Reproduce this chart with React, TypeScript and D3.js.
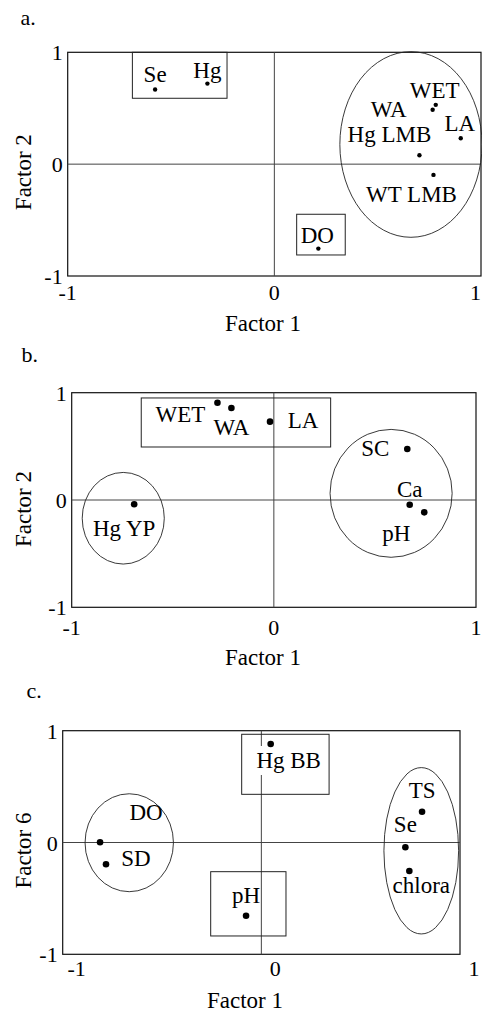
import React, { useEffect, useRef } from "react";
import * as d3 from "d3";

// values (factor loadings)
const namesA = ["Se", "Hg", "WET", "WA", "LA", "Hg LMB", "WT LMB", "DO"];
const xA = [-0.577, -0.324, 0.781, 0.766, 0.902, 0.702, 0.77, 0.213];
const yA = [0.668, 0.72, 0.53, 0.486, 0.232, 0.08, -0.096, -0.755];
const boxesA = [[-0.687, -0.229, 1.0, 0.589], [0.108, 0.343, -0.448, -0.812]];
const ellipsesA = [[0.661, 0.176, 0.344, 0.83]];

const namesB = ["WET", "WA", "LA", "Hg YP", "SC", "Ca", "pH"];
const xB = [-0.279, -0.21, -0.019, -0.691, 0.66, 0.672, 0.744];
const yB = [0.907, 0.857, 0.73, -0.04, 0.475, -0.044, -0.115];
const boxesB = [[-0.656, 0.281, 0.951, 0.494]];
const ellipsesB = [[-0.745, -0.17, 0.203, 0.427], [0.58, 0.062, 0.302, 0.596]];

const namesC = ["Hg BB", "DO", "SD", "pH", "TS", "Se", "chlora"];
const xC = [0.047, -0.812, -0.782, -0.077, 0.809, 0.725, 0.745];
const yC = [0.881, 0.002, -0.195, -0.655, 0.275, -0.043, -0.255];
const boxesC = [[-0.099, 0.341, 0.968, 0.431], [-0.255, 0.124, -0.261, -0.836]];
const ellipsesC = [[-0.665, -0.002, 0.2225, 0.438], [0.805, -0.074, 0.188, 0.744]];

const tickValues = [-1, 0, 1];

// label placement (px from the dot, text centred)
const offA = [[0, -7], [0, -6], [-1, -7], [-44, 7], [-1, -7], [-30, -13], [-22, 27], [-1, -6]];
const offB = [[-37, 19], [0, 27], [33, 6], [-10, 32], [-32, 7], [0, -8], [-28, 29]];
const offC = [[18, 24], [46, -22], [30, 2], [0, -13], [0, -14], [0, -15], [12, 22]];

const FONT = '"Liberation Serif", "Times New Roman", serif';
const W = 482;

const panels = [
  { tag: "a.", tagX: 20.5, tagY: 25, names: namesA, xs: xA, ys: yA, boxes: boxesA, ellipses: ellipsesA, offs: offA,
    yTitle: "Factor 2", left: 67.7, right: 481, top: 52.3, bottom: 276, r: 2.2,
    tickDx: 0, tickDy: 24, titleX: 263, titleDy: 55, yTitleDy: 8, masked: [] as string[] },
  { tag: "b.", tagX: 21.5, tagY: 361.5, names: namesB, xs: xB, ys: yB, boxes: boxesB, ellipses: ellipsesB, offs: offB,
    yTitle: "Factor 2", left: 71.7, right: 476, top: 392.7, bottom: 607.3, r: 3.3,
    tickDx: 0, tickDy: 28, titleX: 263, titleDy: 57.5, yTitleDy: 9, masked: [] as string[] },
  { tag: "c.", tagX: 26.5, tagY: 698, names: namesC, xs: xC, ys: yC, boxes: boxesC, ellipses: ellipsesC, offs: offC,
    yTitle: "Factor 6", left: 62.7, right: 460, top: 730.7, bottom: 954.3, r: 3.3,
    tickDx: 14, tickDy: 22, titleX: 245, titleDy: 53.7, yTitleDy: 8, masked: ["Hg BB"] },
];

const App = () => {
  const ref = useRef<SVGSVGElement>(null);

  useEffect(() => {
    const svg = d3.select(ref.current);
    svg.selectAll("*").remove();

    panels.forEach((p) => {
      const x = d3.scaleLinear().domain([-1, 1]).range([p.left, p.right]);
      const y = d3.scaleLinear().domain([-1, 1]).range([p.bottom, p.top]);
      const g = svg.append("g");

      g.append("text").attr("x", p.tagX).attr("y", p.tagY).attr("font-size", 22).text(p.tag);

      // frame
      g.append("rect")
        .attr("x", x(-1)).attr("y", y(1))
        .attr("width", x(1) - x(-1)).attr("height", y(-1) - y(1))
        .attr("fill", "none").attr("stroke", "#111").attr("stroke-width", 1.2);

      // zero lines
      g.append("line").attr("x1", x(-1)).attr("x2", x(1)).attr("y1", y(0)).attr("y2", y(0))
        .attr("stroke", "#444").attr("stroke-width", 1);
      g.append("line").attr("x1", x(0)).attr("x2", x(0)).attr("y1", y(1)).attr("y2", y(-1))
        .attr("stroke", "#444").attr("stroke-width", 1);

      // tick labels
      tickValues.forEach((t) => {
        const tx = x(t) + p.tickDx;
        const edge = tx + 6 > W;
        g.append("text").attr("x", edge ? W - 1 : tx).attr("y", y(-1) + p.tickDy)
          .attr("text-anchor", edge ? "end" : "middle").attr("font-size", 22).text(t);
        g.append("text").attr("x", x(-1) - 5).attr("y", y(t) + 8)
          .attr("text-anchor", "end").attr("font-size", 22).text(t);
      });

      g.append("text").attr("x", p.titleX).attr("y", y(-1) + p.titleDy)
        .attr("text-anchor", "middle").attr("font-size", 23).text("Factor 1");
      g.append("text")
        .attr("transform", `translate(31,${(p.top + p.bottom) / 2 + p.yTitleDy}) rotate(-90)`)
        .attr("text-anchor", "middle").attr("font-size", 23).text(p.yTitle);

      // groupings
      p.boxes.forEach(([x0, x1, y0, y1]) => {
        g.append("rect")
          .attr("x", x(x0)).attr("y", y(y0))
          .attr("width", x(x1) - x(x0)).attr("height", y(y1) - y(y0))
          .attr("fill", "none").attr("stroke", "#222").attr("stroke-width", 1);
      });
      p.ellipses.forEach(([cx, cy, rx, ry]) => {
        g.append("ellipse")
          .attr("cx", x(cx)).attr("cy", y(cy))
          .attr("rx", x(rx) - x(0)).attr("ry", y(0) - y(ry))
          .attr("fill", "none").attr("stroke", "#222").attr("stroke-width", 0.9);
      });

      // points + labels
      p.names.forEach((name, i) => {
        const px = x(p.xs[i]);
        const py = y(p.ys[i]);
        const lab = g.append("text")
          .attr("x", px + p.offs[i][0]).attr("y", py + p.offs[i][1])
          .attr("text-anchor", "middle").attr("font-size", 23).text(name);
        if (p.masked.includes(name)) {
          const bb = (lab.node() as SVGTextElement).getBBox();
          g.insert("rect", () => lab.node())
            .attr("x", bb.x).attr("y", bb.y - 2)
            .attr("width", bb.width).attr("height", bb.height + 4)
            .attr("fill", "white");
        }
        g.append("circle").attr("cx", px).attr("cy", py).attr("r", p.r).attr("fill", "#000");
      });
    });
  }, []);

  return (
    <svg
      ref={ref}
      width={482}
      height={1015}
      style={{ position: "absolute", left: 0, top: 0, background: "white", fontFamily: FONT }}
    />
  );
};

export default App;
